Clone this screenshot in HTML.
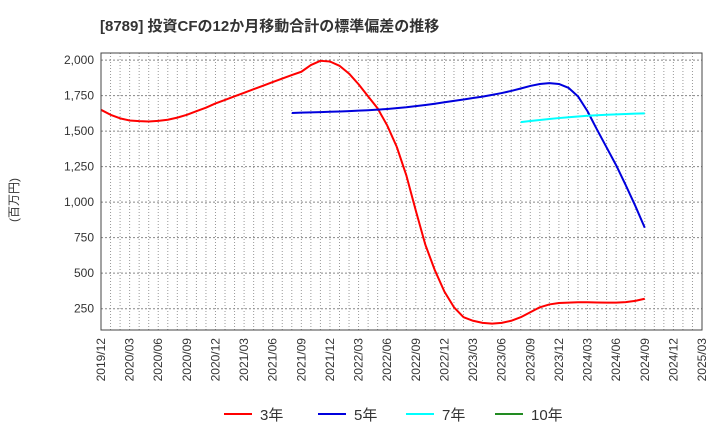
<!DOCTYPE html>
<html><head><meta charset="utf-8"><style>
body{margin:0;background:#fff;font-family:"Liberation Sans","Noto Sans CJK JP",sans-serif}
</style></head><body>
<svg id="c" width="720" height="440" xmlns="http://www.w3.org/2000/svg" style="font-family:'Liberation Sans','Noto Sans CJK JP',sans-serif">
<text x="100" y="31" font-size="15" font-weight="bold" fill="#333">[8789]  投資CFの12か月移動合計の標準偏差の推移</text>
<text x="18" y="200" font-size="12" fill="#333" transform="rotate(-90 18 200)" text-anchor="middle">(百万円)</text>
<g id="grid"></g><g id="series"></g><g id="axes"></g><g id="legend"></g>
</svg>
<script>
const yTicks=[250,500,750,1000,1250,1500,1750,2000];
const xLabels=["2019/12","2020/03","2020/06","2020/09","2020/12","2021/03","2021/06","2021/09","2021/12","2022/03","2022/06","2022/09","2022/12","2023/03","2023/06","2023/09","2023/12","2024/03","2024/06","2024/09","2024/12","2025/03"];
const s3Start=0;
const s3=[1650,1615,1590,1575,1570,1568,1572,1580,1595,1615,1640,1665,1695,1720,1745,1770,1795,1820,1845,1870,1895,1918,1965,1995,1990,1960,1905,1830,1745,1660,1540,1390,1190,940,700,520,370,260,190,165,150,145,150,165,190,225,260,280,290,293,295,295,294,293,293,296,305,320];
const s5Start=20;
const s5=[1628,1630,1632,1634,1636,1638,1641,1644,1647,1651,1656,1662,1668,1676,1684,1693,1703,1713,1723,1733,1743,1755,1768,1783,1800,1818,1832,1838,1832,1805,1745,1640,1510,1385,1260,1120,975,820];
const s7Start=44;
const s7=[1563,1571,1578,1585,1592,1598,1603,1608,1612,1615,1618,1621,1623,1625];
const s10Start=0;
const s10=[];
const L=101,R=702,T=53,B=330,YMIN=100,YMAX=2050,NM=63;
const xs=i=>L+(R-L)*i/NM;
const ys=v=>B-(B-T)*(v-YMIN)/(YMAX-YMIN);
const NS="http://www.w3.org/2000/svg";
function mk(t,a,p){const e=document.createElementNS(NS,t);for(const k in a)e.setAttribute(k,a[k]);p.appendChild(e);return e;}
const g=document.getElementById('grid');
for(let i=1;i<NM;i++){const l=mk('line',{x1:xs(i),x2:xs(i),y1:T,y2:B,stroke:'#999','stroke-dasharray':'1,2','stroke-width':1},g);

}
yTicks.forEach(v=>{const l=mk('line',{x1:L,x2:R,y1:ys(v),y2:ys(v),stroke:'#888','stroke-dasharray':'2,2','stroke-width':1},g);

});
const ax=document.getElementById('axes');
const fr=mk('rect',{x:L,y:T,width:R-L,height:B-T,fill:'none',stroke:'#444','stroke-width':1},ax);


yTicks.forEach(v=>{const t=mk('text',{x:L-7,y:ys(v)+4,'font-size':12,fill:'#333','text-anchor':'end'},ax);t.textContent=v.toLocaleString('en-US');

});
xLabels.forEach((s,k)=>{const x=xs(k*3)+4,y=338;const t=mk('text',{x:x,y:y,'font-size':12,fill:'#333','text-anchor':'end',transform:`rotate(-90 ${x} ${y})`},ax);t.textContent=s;

});
const sg=document.getElementById('series');
function line(arr,start,color,name){if(!arr.length)return;const p=mk('polyline',{points:arr.map((v,i)=>xs(start+i)+','+ys(v)).join(' '),fill:'none',stroke:color,'stroke-width':2,'stroke-linejoin':'round'},sg);

}
line(s3,s3Start,'#ff0000','line-3y');
line(s5,s5Start,'#0000dd','line-5y');
line(s7,s7Start,'#00ffff','line-7y');
line(s10,s10Start,'#228b22','line-10y');
const lg=document.getElementById('legend');
[['3年','#ff0000',224],['5年','#0000dd',318],['7年','#00ffff',406],['10年','#228b22',495]].forEach(([n,c,x])=>{
const gg=mk('g',{},lg);


mk('line',{x1:x,x2:x+28,y1:414,y2:414,stroke:c,'stroke-width':2},gg);
const t=mk('text',{x:x+36,y:420,'font-size':15,fill:'#333'},gg);t.textContent=n;});
</script>
</body></html>
